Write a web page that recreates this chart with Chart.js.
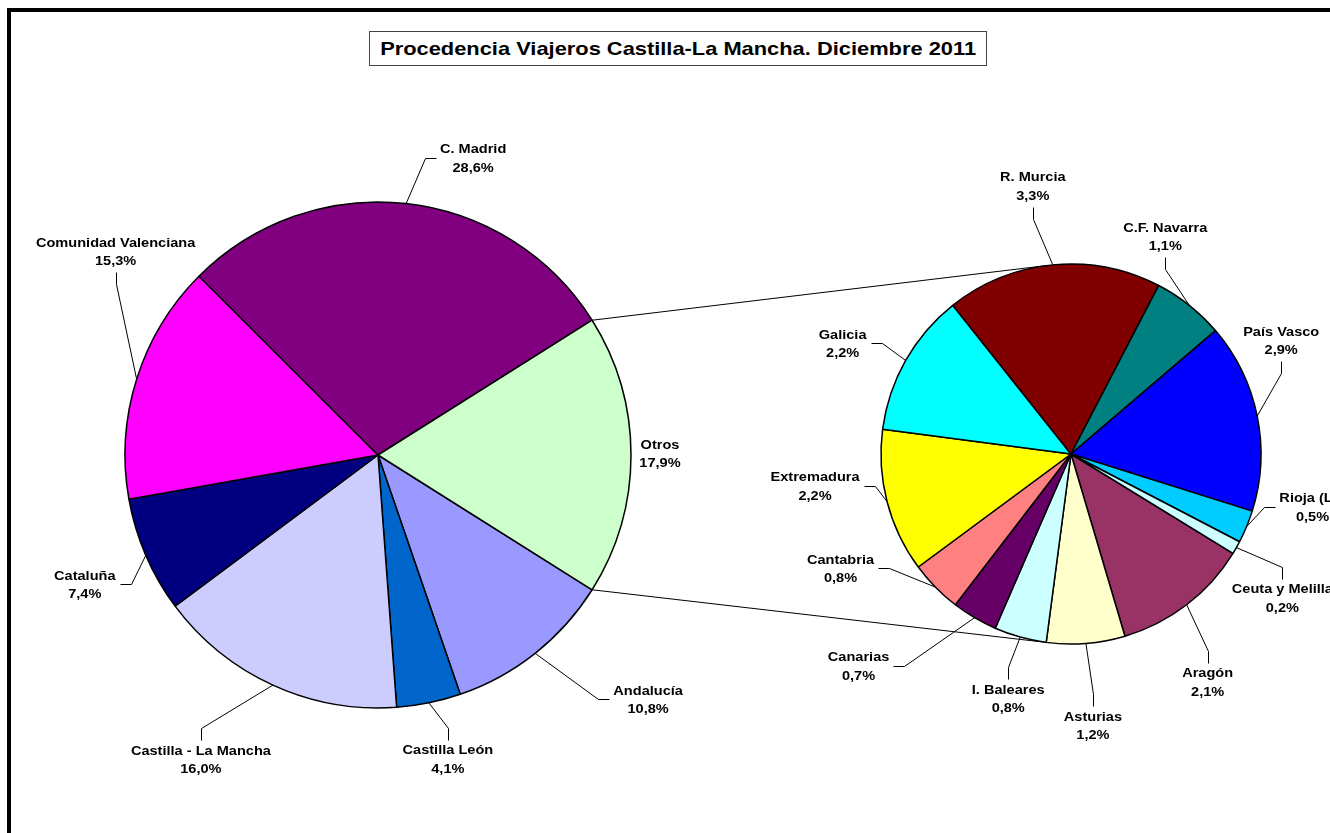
<!DOCTYPE html>
<html>
<head>
<meta charset="utf-8">
<title>Procedencia Viajeros Castilla-La Mancha. Diciembre 2011</title>
<script src="https://cdn.jsdelivr.net/npm/chart.js@4.4.0/dist/chart.umd.min.js"></script>
<style>
    body { margin: 0; background: #fff; width: 1330px; height: 833px; overflow: hidden; position: relative; }
    #frame { position: absolute; left: 7px; top: 8px; width: 1400px; height: 900px; border: 4px solid #000; }
    canvas { position: absolute; left: 0; top: 0; }
    #title {
        position: absolute; left: 369px; top: 31px; width: 616px; height: 33px;
        border: 1px solid #444; background: #fff; text-align: center; line-height: 33px;
        font-family: "Liberation Sans", Arial, sans-serif; font-weight: bold; font-size: 19px; color: #000;
    }
    #title span { display: inline-block; transform: scaleX(1.15); }
</style>
</head>
<body>
<div id="frame"></div>
<canvas id="mainPie" width="1330" height="833"></canvas>
<canvas id="otherPie" width="1330" height="833"></canvas>
<div id="title"><span>Procedencia Viajeros Castilla-La Mancha. Diciembre 2011</span></div>

<script>
// Main pie (% of travellers)
const mainLabels = ['Andalucía', 'Castilla León', 'Castilla - La Mancha', 'Cataluña', 'Comunidad Valenciana', 'C. Madrid', 'Otros'];
const mainValues = [10.8, 4.1, 16.0, 7.4, 15.3, 28.6, 17.9];
const mainColors = ['#9999FF', '#0066CC', '#CCCCFF', '#000080', '#FF00FF', '#800080', '#CCFFCC'];

// Secondary pie: breakdown of "Otros" (% of total)
const otherLabels = ['Aragón', 'Asturias', 'I. Baleares', 'Canarias', 'Cantabria', 'Extremadura', 'Galicia',
    'R. Murcia', 'C.F. Navarra', 'País Vasco', 'Rioja (La)', 'Ceuta y Melilla'];
const otherValues = [2.1, 1.2, 0.8, 0.7, 0.8, 2.2, 2.2, 3.3, 1.1, 2.9, 0.5, 0.2];
const otherColors = ['#993366', '#FFFFCC', '#CCFFFF', '#660066', '#FF8080', '#FFFF00', '#00FFFF',
    '#800000', '#008080', '#0000FF', '#00CCFF', '#CCFFFF'];

// label placement: offset of the label block from the slice edge point, and where the leader attaches
const mainLabelLayout = [
    [113, 46, 'left'],
    [19, 56, 'top'],
    [-72, 74, 'top'],
    [-61, 29, 'right'],
    [-21, -128, 'bottom'],
    [67, -46, 'left'],
    [29, -2, 'none']
];
const otherLabelLayout = [
    [21, 77, 'top'],
    [7, 82, 'top'],
    [-12, 61, 'top'],
    [-116, 48, 'right'],
    [-95, -19, 'right'],
    [-72, -16, 'right'],
    [-63, -17, 'right'],
    [-20, -79, 'bottom'],
    [-24, -69, 'bottom'],
    [24, -76, 'bottom'],
    [66, -20, 'left'],
    [46, 50, 'top']
];

const FONT = 'bold 13px "Liberation Sans", Arial, sans-serif';
const STRETCH = 1.12;

function fmtPct(v) {
    return v.toFixed(1).replace('.', ',') + '%';
}

function drawStretched(ctx, text, x, y) {
    ctx.save();
    ctx.translate(x, y);
    ctx.scale(STRETCH, 1);
    ctx.fillText(text, 0, 0);
    ctx.restore();
}

function drawLabels(chart, layout) {
    const ctx = chart.ctx;
    const meta = chart.getDatasetMeta(0);
    const labels = chart.data.labels;
    const values = chart.data.datasets[0].data;

    ctx.save();
    ctx.font = FONT;
    ctx.fillStyle = '#000';
    ctx.strokeStyle = '#000';
    ctx.lineWidth = 1;
    ctx.textAlign = 'center';
    ctx.textBaseline = 'alphabetic';

    meta.data.forEach((arc, i) => {
        const mid = (arc.startAngle + arc.endAngle) / 2;
        const ax = arc.x + arc.outerRadius * Math.cos(mid);
        const ay = arc.y + arc.outerRadius * Math.sin(mid);
        const [dx, dy, side] = layout[i];
        const cx = ax + dx;
        const cy = ay + dy;
        const line1 = labels[i];
        const line2 = fmtPct(values[i]);
        const w = Math.max(ctx.measureText(line1).width, ctx.measureText(line2).width) * STRETCH;

        // leader line: edge point -> elbow -> label
        let px, py, ex, ey;
        if (side === 'left') {
            px = cx - w / 2 - 4; py = cy; ex = px - 11; ey = py;
        } else if (side === 'right') {
            px = cx + w / 2 + 4; py = cy; ex = px + 11; ey = py;
        } else if (side === 'top') {
            px = cx; py = cy - 19; ex = px; ey = py - 12;
        } else if (side === 'bottom') {
            px = cx; py = cy + 21; ex = px; ey = py + 12;
        }
        if (side !== 'none') {
            px = Math.round(px) + 0.5; py = Math.round(py) + 0.5;
            ex = Math.round(ex) + 0.5; ey = Math.round(ey) + 0.5;
            ctx.beginPath();
            ctx.moveTo(ax, ay);
            ctx.lineTo(ex, ey);
            ctx.lineTo(px, py);
            ctx.stroke();
        }

        drawStretched(ctx, line1, cx, cy - 4.5);
        drawStretched(ctx, line2, cx, cy + 14);
    });
    ctx.restore();
}

const mainTotal = mainValues.reduce((a, b) => a + b, 0);
const otrosShare = mainValues[mainValues.length - 1] / mainTotal;

const mainChart = new Chart(document.getElementById('mainPie'), {
    type: 'pie',
    data: {
        labels: mainLabels,
        datasets: [{
            data: mainValues,
            backgroundColor: mainColors,
            borderColor: '#000',
            borderWidth: 1.5
        }]
    },
    options: {
        responsive: false,
        animation: false,
        rotation: 90 + otrosShare * 180,   // "Otros" centred on the right, facing the second pie
        radius: 253,
        layout: { padding: { left: 0, top: 77, right: 574, bottom: 0 } },
        plugins: { legend: { display: false }, tooltip: { enabled: false } }
    },
    plugins: [{
        id: 'mainLabels',
        afterDraw(chart) { drawLabels(chart, mainLabelLayout); }
    }]
});

const otherChart = new Chart(document.getElementById('otherPie'), {
    type: 'pie',
    data: {
        labels: otherLabels,
        datasets: [{
            data: otherValues,
            backgroundColor: otherColors,
            borderColor: '#000',
            borderWidth: 1.5
        }]
    },
    options: {
        responsive: false,
        animation: false,
        rotation: 121.5,
        radius: 190,
        layout: { padding: { left: 812, top: 75, right: 0, bottom: 0 } },
        plugins: { legend: { display: false }, tooltip: { enabled: false } }
    },
    plugins: [{
        id: 'connectors',
        afterDraw(chart) {
            // series lines from the edges of "Otros" to the tangents of the second pie
            const ctx = chart.ctx;
            const mainArcs = mainChart.getDatasetMeta(0).data;
            const otros = mainArcs[mainArcs.length - 1];
            const arc2 = chart.getDatasetMeta(0).data[0];
            const cx2 = arc2.x, cy2 = arc2.y, r2 = arc2.outerRadius;
            ctx.save();
            ctx.strokeStyle = '#000';
            ctx.lineWidth = 1;
            [[otros.startAngle, 1], [otros.endAngle, -1]].forEach(([a, dir]) => {
                const sx = otros.x + otros.outerRadius * Math.cos(a);
                const sy = otros.y + otros.outerRadius * Math.sin(a);
                const d = Math.hypot(sx - cx2, sy - cy2);
                const t = Math.atan2(sy - cy2, sx - cx2) + dir * Math.acos(r2 / d);
                ctx.beginPath();
                ctx.moveTo(sx, sy);
                ctx.lineTo(cx2 + r2 * Math.cos(t), cy2 + r2 * Math.sin(t));
                ctx.stroke();
            });
            ctx.restore();
        }
    }, {
        id: 'otherLabels',
        afterDraw(chart) { drawLabels(chart, otherLabelLayout); }
    }]
});
</script>
</body>
</html>
